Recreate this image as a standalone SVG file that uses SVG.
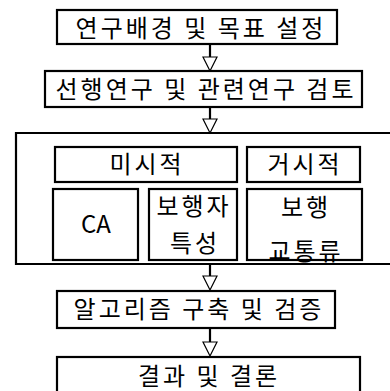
<svg xmlns="http://www.w3.org/2000/svg" width="390" height="391" viewBox="0 0 390 391">
<defs>
<style>
.b{fill:#fff;stroke:#000;stroke-width:2.2}
.t{font-family:"Noto Sans CJK KR","Noto Sans",sans-serif;font-size:24px;letter-spacing:3px;fill:#000;text-anchor:middle}
.n{letter-spacing:0}
.l{stroke:#000;stroke-width:2.2;fill:none}
.a{fill:#fff;stroke:#000;stroke-width:1.2}
</style>
</defs>
<rect width="390" height="391" fill="#fff"/>
<g id="connectors">
<line class="l" x1="210" y1="44" x2="210" y2="57"/><polygon class="a" points="203,57 217,57 210,71"/>
<line class="l" x1="210" y1="107" x2="210" y2="119"/><polygon class="a" points="203,119 217,119 210,133"/>
<line class="l" x1="210" y1="264" x2="210" y2="276"/><polygon class="a" points="203,276 217,276 210,290"/>
<line class="l" x1="210" y1="328" x2="210" y2="342"/><polygon class="a" points="203,342 217,342 210,356"/>
</g>
<g id="n1"><rect class="b" x="57" y="10" width="280" height="34"/><text class="t" x="201" y="37">연구배경 및 목표 설정</text></g>
<g id="n2"><rect class="b" x="45" y="71" width="317" height="36"/><text class="t" x="206" y="98">선행연구 및 관련연구 검토</text></g>
<g id="n3"><path class="l" d="M391,133 H16 V264 H391"/></g>
<g id="n3a"><rect class="b" x="55" y="147" width="182" height="35"/><text class="t" x="147" y="173">미시적</text></g>
<g id="n3b"><rect class="b" x="247" y="147" width="113" height="35"/><text class="t" x="305" y="173">거시적</text></g>
<g id="n3c"><rect class="b" x="53" y="189" width="85" height="71"/><text class="t n" x="96" y="233">CA</text></g>
<g id="n3d"><rect class="b" x="149" y="189" width="88" height="71"/><text class="t" x="194" y="215">보행자</text><text class="t" x="195" y="252">특성</text></g>
<g id="n3e"><rect class="b" x="247" y="189" width="115" height="71"/><text class="t" x="306" y="216">보행</text><text class="t" x="306" y="260">교통류</text></g>
<g id="n4"><rect class="b" x="57" y="291" width="278" height="37"/><text class="t" x="199" y="318">알고리즘 구축 및 검증</text></g>
<g id="n5"><rect class="b" x="57" y="357" width="303" height="40"/><text class="t" x="209" y="385">결과 및 결론</text></g>
</svg>
